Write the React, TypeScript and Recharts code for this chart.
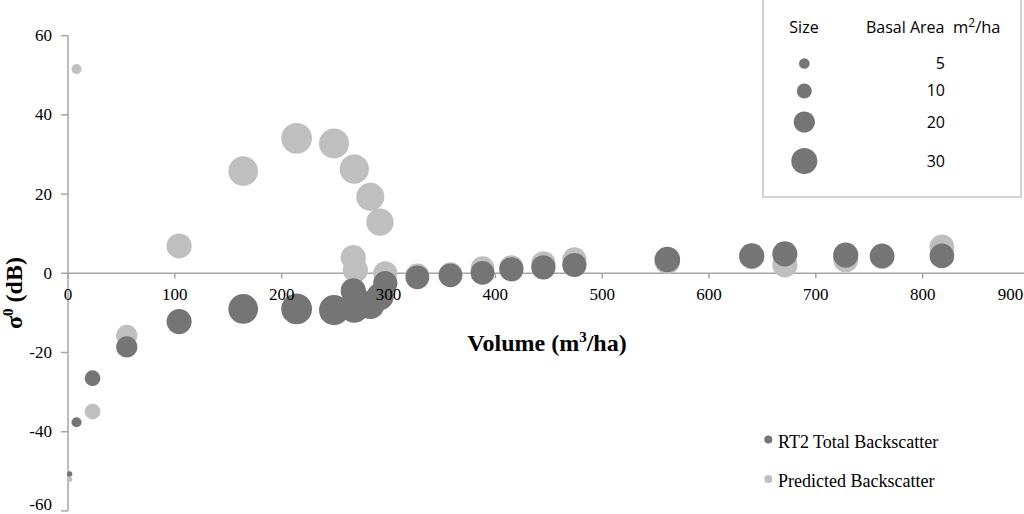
import React from "react";
import {
  ScatterChart,
  Scatter,
  XAxis,
  YAxis,
  ZAxis,
  ReferenceLine,
  ReferenceDot,
} from "recharts";

// ---- data ----
const volume = [1.5, 8, 23, 55, 104, 164, 214, 249, 267, 268, 269, 283, 292, 297, 327, 358, 388, 415, 445, 474, 561, 640, 671, 728, 762, 818];
const rt2Backscatter = [-50.7, -37.6, -26.5, -18.6, -12.2, -9.0, -9.0, -9.3, -4.4, -8.8, -6.0, -8.0, -5.9, -2.5, -1.0, -0.5, 0.1, 1.0, 1.5, 2.1, 3.5, 4.4, 4.9, 4.6, 4.4, 4.4];
const predictedBackscatter = [-52, 51.6, -34.9, -15.7, 6.9, 25.8, 34.1, 32.8, 4.0, 26.3, 0.8, 19.3, 12.9, 0.0, -0.5, -0.2, 1.3, 1.5, 2.5, 3.5, 3.0, 4.2, 2.1, 3.4, 4.2, 6.7];
const basalArea = [1.3, 4.5, 11, 20, 28, 39, 42, 40, 28, 38, 28, 35, 33, 26, 25, 25, 25, 26, 26, 26, 29, 28, 28, 28, 27, 27];

const xTicks = [0, 100, 200, 300, 400, 500, 600, 700, 800, 900];
const yTicks = [-60, -40, -20, 0, 20, 40, 60];
const sizeLegend = [5, 10, 20, 30];

const rt2Pts = volume.map((x, i) => ({ x, y: rt2Backscatter[i], z: basalArea[i] }));
const predPts = volume.map((x, i) => ({ x, y: predictedBackscatter[i], z: basalArea[i] }));

const Z_DOMAIN_MAX = 45;
const Z_AREA_MAX = Math.PI * 13 * 13 * (Z_DOMAIN_MAX / 30);
const radiusFor = (v: number) => Math.sqrt((Z_AREA_MAX * v) / Z_DOMAIN_MAX / Math.PI);

const DARK = "#757575";
const LIGHT = "#bfbfbf";
const AXIS = "#a6a6a6";
const SERIF = "'Liberation Serif', 'Times New Roman', serif";
const SANS = "'Open Sans', 'Noto Sans', sans-serif";
const tickTextStyle: React.CSSProperties = { fontFamily: SERIF, fontSize: 17, fill: "#000" };

const YTick = (props: any) => {
  const { x, y, payload } = props;
  const v = payload.value;
  const shift = v === yTicks[0] ? -6 : 0;
  return (
    <text
      x={x}
      y={y + shift}
      textAnchor="end"
      dominantBaseline="central"
      style={tickTextStyle}
    >
      {String(v)}
    </text>
  );
};

const lastTick = xTicks[xTicks.length - 1];
const makeXLabel = (t: number) => (props: any) => {
  const vb = props.viewBox || {};
  const cx = (vb.x || 0) + (vb.width || 0) / 2;
  const cy = (vb.y || 0) + (vb.height || 0) / 2;
  return (
    <text
      x={cx + (t === lastTick ? -19 : 0)}
      y={cy + 21}
      textAnchor="middle"
      dominantBaseline="central"
      style={tickTextStyle}
    >
      {String(t)}
    </text>
  );
};

export default function App() {
  const legendRows = [63.5, 91, 122, 161];
  const legendBase = [69, 96, 128, 167];
  return (
    <div
      style={{
        position: "absolute",
        left: 0,
        top: 0,
        width: 1024,
        height: 514,
        overflow: "hidden",
        background: "#fff",
      }}
    >
      <ScatterChart
        width={1040}
        height={520}
        margin={{ top: 35.7, right: 10.5, bottom: 9.1, left: 8 }}
      >
        <XAxis type="number" dataKey="x" domain={[0, 900]} ticks={xTicks} hide />
        <YAxis
          type="number"
          dataKey="y"
          domain={[-60, 60]}
          ticks={yTicks}
          interval={0}
          width={60}
          tickSize={7}
          tickMargin={9}
          axisLine={{ stroke: AXIS, strokeWidth: 1.5 }}
          tickLine={{ stroke: AXIS, strokeWidth: 1.5 }}
          tick={YTick}
        />
        <ZAxis type="number" dataKey="z" domain={[0, Z_DOMAIN_MAX]} range={[0, Z_AREA_MAX]} />
        <ReferenceLine y={0} stroke={AXIS} strokeWidth={1.5} />
        {xTicks.map((t) => (
          <ReferenceLine
            key={"tk" + t}
            segment={[
              { x: t, y: 0 },
              { x: t, y: -1.3 },
            ]}
            stroke={AXIS}
            strokeWidth={1.5}
          />
        ))}
        <Scatter data={predPts} fill={LIGHT} isAnimationActive={false} />
        <Scatter data={rt2Pts} fill={DARK} isAnimationActive={false} />
        {xTicks.map((t) => (
          <ReferenceDot
            key={"lb" + t}
            x={t}
            y={0}
            r={0}
            fill="none"
            stroke="none"
            ifOverflow="visible"
            label={{ content: makeXLabel(t) }}
          />
        ))}
      </ScatterChart>

      <svg
        width={1024}
        height={514}
        style={{ position: "absolute", left: 0, top: 0, pointerEvents: "none" }}
      >
        {/* axis titles */}
        <text
          transform="translate(21.5,293) rotate(-90)"
          textAnchor="middle"
          fontFamily={SERIF}
          fontWeight="bold"
          fontSize={24}
          fill="#000"
        >
          σ<tspan dy={-9} fontSize={15}>0</tspan>
          <tspan dy={9}> (dB)</tspan>
        </text>
        <text
          x={547}
          y={350.7}
          textAnchor="middle"
          fontFamily={SERIF}
          fontWeight="bold"
          fontSize={24}
          fill="#000"
        >
          Volume (m<tspan dy={-9} fontSize={15}>3</tspan>
          <tspan dy={9}>/ha)</tspan>
        </text>

        {/* size legend */}
        <rect x={763} y={-2} width={258} height={199} fill="none" stroke="#c4c4c4" strokeWidth={1.5} />
        <text x={804} y={33.3} textAnchor="middle" fontFamily={SANS} fontSize={16} fill="#000">
          Size
        </text>
        <text x={866} y={33.3} fontFamily={SANS} fontSize={16} fill="#000">
          Basal Area
        </text>
        <text x={953} y={33.3} fontFamily={SANS} fontSize={16.5} fill="#000">
          m<tspan dy={-6} fontSize={12}>2</tspan>
          <tspan dy={6}>/ha</tspan>
        </text>
        {sizeLegend.map((v, i) => (
          <g key={"sz" + v}>
            <circle cx={804.3} cy={legendRows[i]} r={radiusFor(v)} fill={DARK} />
            <text
              x={945}
              y={legendBase[i]}
              textAnchor="end"
              fontFamily={SANS}
              fontSize={16}
              fill="#000"
            >
              {String(v)}
            </text>
          </g>
        ))}

        {/* series legend */}
        <circle cx={768.3} cy={439.5} r={4} fill={DARK} />
        <text x={778} y={448} fontFamily={SERIF} fontSize={18} fill="#000">
          RT2 Total Backscatter
        </text>
        <circle cx={768.3} cy={479} r={4} fill={LIGHT} />
        <text x={778} y={487} fontFamily={SERIF} fontSize={18} fill="#000">
          Predicted Backscatter
        </text>
      </svg>
    </div>
  );
}
